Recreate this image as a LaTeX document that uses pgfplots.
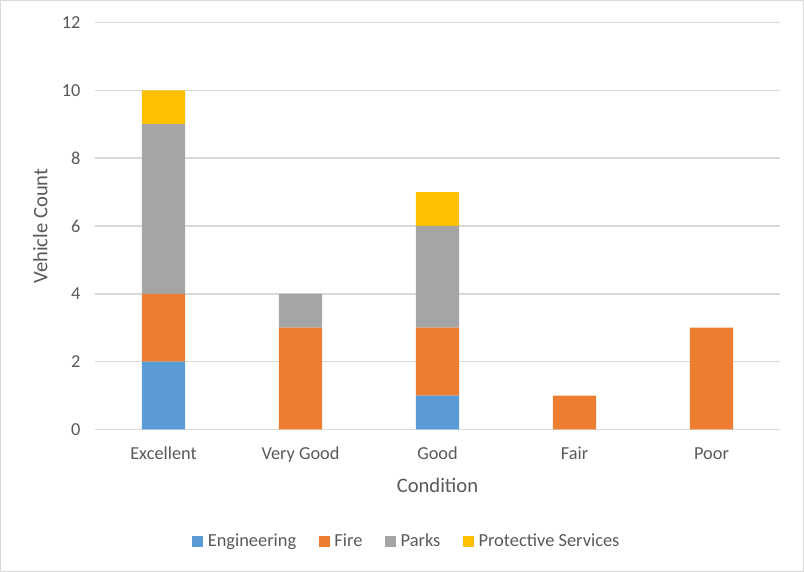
\documentclass[border=0pt]{standalone}
\usepackage{pgfplots}
\pgfplotsset{compat=1.18}
\usepackage{fontspec}
\setmainfont{Carlito}

\definecolor{txt}{HTML}{595959}
\definecolor{gridc}{HTML}{D9D9D9}
\definecolor{framec}{HTML}{D9D9D9}
\definecolor{eng}{HTML}{5B9BD5}
\definecolor{fire}{HTML}{ED7D31}
\definecolor{parks}{HTML}{A5A5A5}
\definecolor{prot}{HTML}{FFC000}

% Vehicle counts by condition (0 = Excellent ... 4 = Poor)
\pgfplotstableread{
x eng fire parks prot
0 2 2 5 1
1 0 3 1 0
2 1 2 3 1
3 0 1 0 0
4 0 3 0 0
}\fleet

\begin{document}
\begin{tikzpicture}[x=1pt,y=1pt]
\useasboundingbox (0,0) rectangle (804,572);
\draw[framec, line width=1.3pt] (0.65,0.65) rectangle (803.35,571.35);
\begin{axis}[
  at={(95pt,142.5pt)}, anchor=south west,
  scale only axis, width=685pt, height=407pt,
  ybar stacked, bar width=43.3pt,
  xmin=-0.5, xmax=4.5, ymin=0, ymax=12,
  xtick={0,...,4},
  xticklabels={Excellent,Very Good,Good,Fair,Poor},
  ytick={0,2,...,12},
  ymajorgrids, grid style={line width=1.4pt, gridc},
  axis line style={draw=none},
  major tick length=0pt, tick style={draw=none},
  /pgf/number format/assume math mode=true,
  tick label style={font=\fontsize{18.3}{22}\selectfont, text=txt},
  xticklabel style={anchor=base, yshift=-30.5pt},
  yticklabel style={anchor=east, xshift=-11pt},
  xlabel={Condition}, ylabel={Vehicle Count},
  label style={font=\fontsize{20.6}{24}\selectfont, text=txt},
  xlabel style={at={(axis description cs:0.5,-0.1543)}, anchor=base},
  ylabel style={at={(axis description cs:-0.0696,0.5)}, anchor=base, rotate=0},
  legend columns=4,
  legend style={
    draw=none, fill=none, inner sep=0pt, outer sep=0pt,
    font=\fontsize{18.4}{22}\selectfont, text=txt,
    at={(axis description cs:0.1416,-0.2740)}, anchor=west,
    nodes={inner xsep=0pt, inner ysep=1pt},
    /tikz/every odd column/.append style={column sep=4.8pt},
    /tikz/every even column/.append style={column sep=22.4pt},
  },
  legend image code/.code={\fill[#1] (0pt,-5.5pt) rectangle (11pt,5.5pt);},
]
\addplot[fill=eng, draw=none] table[x=x, y=eng] {\fleet};
\addplot[fill=fire, draw=none] table[x=x, y=fire] {\fleet};
\addplot[fill=parks, draw=none] table[x=x, y=parks] {\fleet};
\addplot[fill=prot, draw=none] table[x=x, y=prot] {\fleet};
\legend{Engineering, Fire, Parks, Protective Services}
\end{axis}
\end{tikzpicture}
\end{document}
